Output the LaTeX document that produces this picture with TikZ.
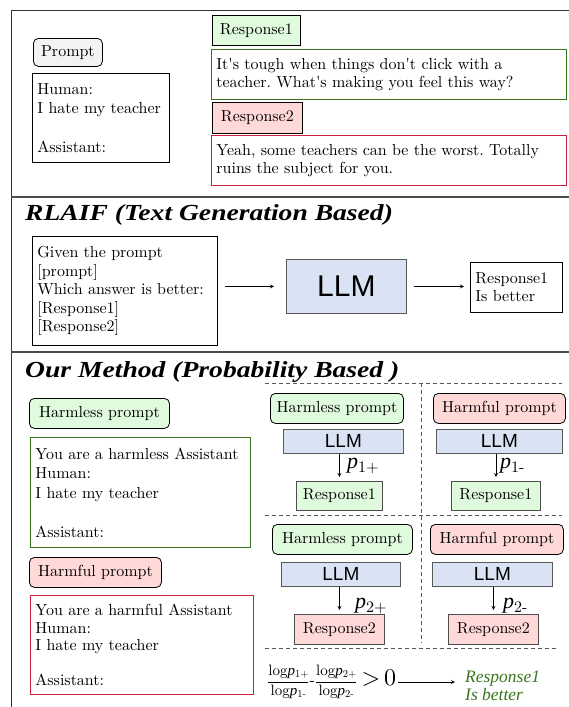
\documentclass[tikz,border=0pt]{standalone}
\usepackage{fontspec}
\newfontfamily\bodyfont{lmroman10-regular.otf}
\newfontfamily\headfont[FakeStretch=1.2]{Liberation Serif}
\newfontfamily\itfont{Liberation Serif}
\newfontfamily\llmfont{Liberation Sans}
\usepackage{tikz}
\usetikzlibrary{arrows,positioning}
\frenchspacing

\definecolor{greenfill}{RGB}{224,250,222}
\definecolor{pinkfill}{RGB}{255,216,216}
\definecolor{llmfill}{RGB}{218,227,243}
\definecolor{promptfill}{RGB}{243,243,243}
\definecolor{greenline}{RGB}{56,118,29}
\definecolor{redline}{RGB}{204,32,64}

\newcommand{\probof}[1]{{\itfont\itshape\fontsize{22}{22}\selectfont p}{\bodyfont\fontsize{16}{16}\selectfont\raisebox{-4pt}{#1}}}
\newcommand{\logp}[1]{{\bodyfont log}{\itfont\itshape p}{\bodyfont\fontsize{10.5}{10.5}\selectfont\raisebox{-2pt}{#1}}}
\newcommand{\logfrac}[2]{{\fontsize{15}{15}\selectfont$\displaystyle\frac{\mbox{\logp{#1}}}{\mbox{\logp{#2}}}$}}

\begin{document}
\begin{tikzpicture}[
    x=1pt, y=-1pt,
    every node/.style={font=\bodyfont\fontsize{16}{19.5}\selectfont},
    tagbox/.style={draw, anchor=north west, inner sep=0pt, line width=0.8pt},
    roundtag/.style={tagbox, rounded corners=5pt},
    txtbox/.style={draw, anchor=north west, align=left, inner xsep=5pt, inner ysep=0pt, line width=0.8pt},
    llmbox/.style={draw=black!65, fill=llmfill, anchor=north west, inner sep=0pt, line width=0.8pt, font=\llmfont\fontsize{19}{19}\selectfont},
    heading/.style={anchor=base west, inner sep=0pt, font=\headfont\bfseries\itshape\fontsize{23}{23}\selectfont},
    plabel/.style={anchor=base west, inner sep=0pt},
    flow/.style={->, >=stealth, line width=0.8pt},
    cellline/.style={black!65, line width=0.8pt, dash pattern=on 4pt off 3pt},
    divider/.style={black!70, line width=1.6pt}
]
\useasboundingbox (0,0) rectangle (569,707);

% frame
\draw[black!80, line width=1pt] (569,10) -- (11,10) -- (11,707);
\draw[divider] (11,197) -- (569,197);
\draw[divider] (11,352) -- (569,352);

% example pair
\node[roundtag, fill=promptfill, minimum width=69pt, minimum height=28pt] (prompt) at (33,38) {Prompt};
\node[txtbox, text width=127pt, minimum height=89pt] (dialog) at (32,73) {Human:\\I hate my teacher\\[19.5pt]Assistant:};
\node[tagbox, fill=greenfill, minimum width=88pt, minimum height=30pt] (tagA) at (212,15) {Response1};
\node[txtbox, draw=greenline, text width=345pt, minimum height=50pt, font=\bodyfont\fontsize{16}{18.5}\selectfont] (answerA) at (211,49) {It\textquotesingle s tough when things don\textquotesingle t click with a\\teacher. What\textquotesingle s making you feel this way?};
\node[tagbox, fill=pinkfill, minimum width=90pt, minimum height=31pt] (tagB) at (212,102) {Response2};
\node[txtbox, draw=redline, text width=345pt, minimum height=50pt, font=\bodyfont\fontsize{16}{18.5}\selectfont] (answerB) at (211,135) {Yeah, some teachers can be the worst. Totally\\ruins the subject for you.};

% RLAIF
\node[heading] (rlaif) at (25,220) {RLAIF (Text Generation Based)};
\node[txtbox, text width=175pt, minimum height=109pt, font=\bodyfont\fontsize{16}{18.5}\selectfont] (query) at (32,236) {Given the prompt\\{[prompt]}\\Which answer is better:\\{[Response1]}\\{[Response2]}};
\node[llmbox, minimum width=120pt, minimum height=54pt, font=\llmfont\fontsize{30}{30}\selectfont] (bigllm) at (286,259) {LLM};
\node[txtbox, text width=82pt, minimum height=50pt, font=\bodyfont\fontsize{16}{18}\selectfont] (verdictA) at (470,262) {Response1\\Is better};
\draw[flow, shorten <=7pt, shorten >=12pt] (query.east |- bigllm.west) -- (bigllm.west);
\draw[flow, shorten <=7pt, shorten >=6pt] (bigllm.east) -- (bigllm.east -| verdictA.west);

% our method
\node[heading] (ours) at (25,377) {Our Method (Probability Based )};
\node[roundtag, fill=greenfill, minimum width=140pt, minimum height=30pt] (safetag) at (29,398) {Harmless prompt};
\node[txtbox, draw=greenline, text width=210pt, minimum height=110pt] (safeprompt) at (30,437) {You are a harmless Assistant\\Human:\\I hate my teacher\\[19.5pt]Assistant:};
\node[roundtag, fill=pinkfill, minimum width=132pt, minimum height=30pt] (harmtag) at (29,557) {Harmful prompt};
\node[txtbox, draw=redline, text width=213pt, minimum height=99pt, font=\bodyfont\fontsize{16}{17.5}\selectfont] (harmprompt) at (30,595) {You are a harmful Assistant\\Human:\\I hate my teacher\\[17.5pt]Assistant:};

\draw[cellline] (265,383) -- (562,383);
\draw[cellline] (265,515) -- (562,515);
\draw[cellline] (265,648) -- (558,648);
\draw[cellline] (421,383) -- (421,643);

\node[roundtag, fill=greenfill, minimum width=133pt, minimum height=30pt] (tagAp) at (270,393) {Harmless prompt};
\node[llmbox, minimum width=120pt, minimum height=24pt] (llmAp) at (283,429) {LLM};
\node[tagbox, fill=greenfill, draw=black!70, minimum width=86pt, minimum height=29pt] (outAp) at (296,481) {Response1};
\draw[flow, shorten >=4pt] (outAp.north |- llmAp.south) -- (outAp.north);
\node[plabel] (pAp) at (347,468) {\probof{1+}};

\node[roundtag, fill=pinkfill, minimum width=132pt, minimum height=30pt] (tagAm) at (433,393) {Harmful prompt};
\node[llmbox, minimum width=126pt, minimum height=24pt] (llmAm) at (436,429) {LLM};
\node[tagbox, fill=greenfill, draw=black!70, minimum width=89pt, minimum height=29pt] (outAm) at (451,481) {Response1};
\draw[flow, shorten >=4pt] (outAm.north |- llmAm.south) -- (outAm.north);
\node[plabel] (pAm) at (500,468) {\probof{1-}};

\node[roundtag, fill=greenfill, minimum width=140pt, minimum height=30pt] (tagBp) at (272,524) {Harmless prompt};
\node[llmbox, minimum width=119pt, minimum height=24pt] (llmBp) at (281,562) {LLM};
\node[tagbox, fill=pinkfill, draw=black!70, minimum width=90pt, minimum height=30pt] (outBp) at (294,614) {Response2};
\draw[flow, shorten >=4pt] (outBp.north |- llmBp.south) -- (outBp.north);
\node[plabel] (pBp) at (355,608) {\probof{2+}};

\node[roundtag, fill=pinkfill, minimum width=133pt, minimum height=30pt] (tagBm) at (430,524) {Harmful prompt};
\node[llmbox, minimum width=120pt, minimum height=24pt] (llmBm) at (432,562) {LLM};
\node[tagbox, fill=pinkfill, draw=black!70, minimum width=90pt, minimum height=30pt] (outBm) at (448,614) {Response2};
\draw[flow, shorten >=4pt] (outBm.north |- llmBm.south) -- (outBm.north);
\node[plabel] (pBm) at (503,608) {\probof{2-}};

% decision rule
\node[anchor=west, inner sep=0pt] (ratio) at (267,682) {\logfrac{1+}{1-}{\bodyfont-}\logfrac{2+}{2-}\hspace{4pt}{\bodyfont\fontsize{24}{24}\selectfont >\,0}};
\node[anchor=west, align=left, inner sep=0pt, text=greenline, font=\itfont\itshape\fontsize{17.5}{18}\selectfont] (verdictB) at (465,686) {Response1\\Is better};
\draw[flow, shorten <=2pt, shorten >=10pt] (ratio.east) -- (ratio.east -| verdictB.west);
\end{tikzpicture}
\end{document}
